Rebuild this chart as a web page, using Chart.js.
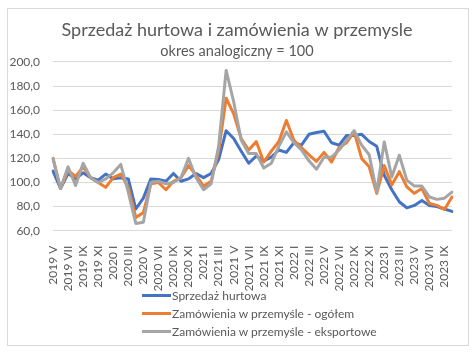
<!DOCTYPE html>
<html><head><meta charset="utf-8">
<script src="https://cdn.jsdelivr.net/npm/chart.js@4.4.0/dist/chart.umd.min.js"></script>
<style>
html,body{margin:0;padding:0;background:#fff;}
#wrap{position:relative;width:474px;height:352px;overflow:hidden;}
#frame{position:absolute;left:7px;top:8px;width:462px;height:338px;border:1px solid #d9d9d9;box-sizing:border-box;pointer-events:none;}
canvas{position:absolute;left:0;top:0;}
#legend{position:absolute;left:142px;top:286px;font-family:Lato,sans-serif;font-size:12px;color:#595959;}
#legend .row{height:18px;display:flex;align-items:center;white-space:nowrap;}
#legend .sw{width:29px;height:3px;margin-right:1px;}
</style>
</head><body>
<div id="wrap">
<canvas id="c" width="474" height="352"></canvas>
<div id="frame"></div>
<div id="legend"></div>
</div>
<script>
const titleText = 'Sprzedaż hurtowa i zamówienia w przemysle';
const subtitleText = 'okres analogiczny = 100';
const labels = [
 '2019 V','2019 VI','2019 VII','2019 VIII','2019 IX','2019 X','2019 XI','2019 XII',
 '2020 I','2020 II','2020 III','2020 IV','2020 V','2020 VI','2020 VII','2020 VIII','2020 IX','2020 X','2020 XI','2020 XII',
 '2021 I','2021 II','2021 III','2021 IV','2021 V','2021 VI','2021 VII','2021 VIII','2021 IX','2021 X','2021 XI','2021 XII',
 '2022 I','2022 II','2022 III','2022 IV','2022 V','2022 VI','2022 VII','2022 VIII','2022 IX','2022 X','2022 XI','2022 XII',
 '2023 I','2023 II','2023 III','2023 IV','2023 V','2023 VI','2023 VII','2023 VIII','2023 IX','2023 X'
];
const seriesNames = ['Sprzedaż hurtowa','Zamówienia w przemyśle - ogółem','Zamówienia w przemyśle - eksportowe'];
const seriesColors = ['#4472C4','#ED7D31','#A5A5A5'];
const sprzedaz = [109.5,95,107.5,103,108,104,102,107,103,104,103,78,87,103,102.5,101,107.5,101,103,107.5,104,107.5,119,143,136.5,126,116,122,118,121,127,125,133,131,140,141.5,142.5,133,131,139,139,140,134,130,106,94,84,79,81,85,81,80,78,76];
const zamOgolem = [120,95,110,105,113,104,100,96,104,107,96,71,75,99,100,94,101,104,114,106,97,101,126,170,157,136.5,127,134,117,126,134,151.5,135,129,123,117.5,125,117,129,133,142,120,113,91,114,98,109,96.4,91,95,82.6,81,77.6,88];
const zamEksport = [120,95,113,97.5,116,104,100,103,108,115,92,66,67,100,101,99,100,104,120,104,94,99,130,193,167,135,124,124,112,116,130,142,133,127,118,111,121,121,127,135,143,131,123,92,133.7,104.6,122.6,102,97,97,88,86,87,92];
const yMin = 60, yMax = 200, yStep = 20;

const FONT = 'Lato';
const TXT = '#595959';
const seriesData = [sprzedaz, zamOgolem, zamEksport];

const datasets = seriesData.map((d,i)=>({
  label: seriesNames[i], data: d, borderColor: seriesColors[i], backgroundColor: seriesColors[i],
  borderWidth: 3, pointRadius: 0, tension: 0, fill: false, yAxisID: 'y',
  borderJoinStyle: 'round', borderCapStyle: 'round', order: 3 - i
}));

new Chart(document.getElementById('c'), {
  type: 'line',
  data: { labels: labels, datasets: datasets },
  options: {
    responsive: false, animation: false, devicePixelRatio: 1,
    layout: { padding: { left: 0, right: 0, top: 0, bottom: 61.3 } },
    plugins: {
      legend: { display: false },
      tooltip: { enabled: false },
      title: { display: true, text: titleText, color: TXT, font: { family: FONT, size: 18, weight: 'normal' }, padding: { top: 19, bottom: 0 } },
      subtitle: { display: true, text: subtitleText, color: TXT, font: { family: FONT, size: 14.5, weight: 'normal' }, padding: { top: 2, bottom: 2 } }
    },
    scales: {
      y: {
        position: 'left',
        min: yMin, max: yMax,
        ticks: { stepSize: yStep, color: TXT, font: { family: FONT, size: 12 }, padding: 13,
          callback: v => v.toFixed(1).replace('.', ',') },
        grid: { color: '#d9d9d9', drawTicks: false, lineWidth: 1 },
        border: { display: false },
        afterFit: s => { s.width = 53; }
      },
      yRight: {
        position: 'right', display: true,
        ticks: { display: false },
        grid: { display: false, drawTicks: false },
        border: { display: false },
        afterFit: s => { s.width = 22; }
      },
      x: {
        ticks: { autoSkip: false, maxRotation: 90, minRotation: 90, color: TXT, font: { family: FONT, size: 12 }, padding: 7,
          callback: (v, i) => (i % 2 === 0 ? labels[i] : null) },
        grid: { display: false },
        border: { display: false },
        afterFit: s => { s.height = 60; }
      }
    }
  }
});

const leg = document.getElementById('legend');
seriesNames.forEach((n,i)=>{
  const r = document.createElement('div'); r.className='row';
  const sw = document.createElement('span'); sw.className='sw'; sw.style.background=seriesColors[i];
  const t = document.createElement('span'); t.textContent = n;
  r.appendChild(sw); r.appendChild(t); leg.appendChild(r);
});
</script>
</body></html>
